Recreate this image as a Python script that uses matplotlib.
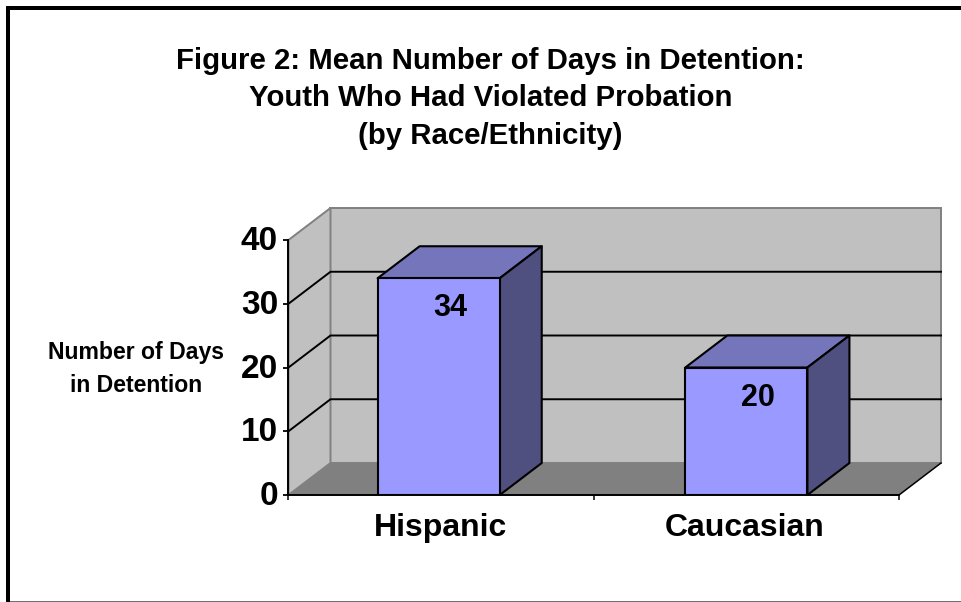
# -*- coding: utf-8 -*-
"""Excel style 3D column chart drawn on a flat matplotlib axes."""

import matplotlib
matplotlib.use('Agg')
import matplotlib.pyplot as plt
from matplotlib.patches import Polygon, Rectangle
from matplotlib.transforms import ScaledTranslation

plt.rcParams['font.family'] = ['Liberation Sans', 'DejaVu Sans']

# Data
categories = ['Hispanic', 'Caucasian']
values = [34, 20]
y_ticks = [0, 10, 20, 30, 40]
title_lines = ['Figure 2: Mean Number of Days in Detention:',
               'Youth Who Had Violated Probation',
               '(by Race/Ethnicity)']
y_label_lines = ['Number of Days', 'in Detention']

W, H = 962, 602
c_wall = '#C0C0C0'
c_floor = '#808080'
c_front = '#9999FF'
c_top = '#7575BC'
c_side = '#4F4F80'


def px(x, y):
    # picture pixels to figure fraction
    return x / W, 1 - y / H


fig = plt.figure(figsize=(W / 100, H / 100), dpi=100, facecolor='white')

# Front plane of the 3D box
left, right, top, bottom = 288.5, 899, 240, 495
ax = fig.add_axes([left / W, 1 - bottom / H, (right - left) / W, (bottom - top) / H])
ax.set_xlim(-0.5, 1.5)
ax.set_ylim(0, 40)
ax.patch.set_visible(False)

# Depth of the box in data units (42 px across, 32 px up)
dx = 42 / ((right - left) / 2)
dy = 32 / ((bottom - top) / 40)
x0, x1 = -0.5, 1.5
ymax = y_ticks[-1]

# Walls and floor
ax.add_patch(Polygon([(x0 + dx, dy), (x1 + dx, dy), (x1 + dx, ymax + dy), (x0 + dx, ymax + dy)],
                     closed=True, facecolor=c_wall, edgecolor=c_floor, lw=1.4, zorder=1, clip_on=False))
ax.add_patch(Polygon([(x0, 0), (x0 + dx, dy), (x0 + dx, ymax + dy), (x0, ymax)],
                     closed=True, facecolor=c_wall, edgecolor=c_floor, lw=1.4, zorder=1, clip_on=False))
ax.add_patch(Polygon([(x0, 0), (x1, 0), (x1 + dx, dy), (x0 + dx, dy)],
                     closed=True, facecolor=c_floor, edgecolor='none', zorder=2, clip_on=False))
ax.plot([x1, x1 + dx], [0, dy], color='black', lw=1.1, zorder=3, clip_on=False)

# Gridlines run along the side wall and the back wall
for t in y_ticks[1:-1]:
    ax.plot([x0, x0 + dx, x1 + dx], [t, t + dy, t + dy], color='black', lw=1.4,
            zorder=3, clip_on=False, solid_joinstyle='miter')

# Bars, the first sits a touch left of its slot in the original
bar_w = 0.4
xs = [-0.008, 1.0]
ax.bar(xs, values, width=bar_w, color=c_front, edgecolor='black', linewidth=1.5, zorder=5)
for i, v in zip(xs, values):
    l, r = i - bar_w / 2, i + bar_w / 2
    ax.add_patch(Polygon([(l, v), (r, v), (r + dx, v + dy), (l + dx, v + dy)], closed=True,
                         facecolor=c_top, edgecolor='black', lw=1.5, zorder=4, joinstyle='round'))
    ax.add_patch(Polygon([(r, 0), (r + dx, dy), (r + dx, v + dy), (r, v)], closed=True,
                         facecolor=c_side, edgecolor='black', lw=1.5, zorder=4, joinstyle='round'))
    ax.annotate(str(v), (i, v), xytext=(12, -30), textcoords='offset pixels', ha='center',
                va='center', fontsize=22, fontweight='bold', color='black', zorder=6)

# Axes
for side in ('top', 'right'):
    ax.spines[side].set_visible(False)
for side in ('left', 'bottom'):
    ax.spines[side].set_linewidth(1.4)
    ax.spines[side].set_zorder(4)
ax.set_yticks(y_ticks)
ax.set_yticklabels([str(t) for t in y_ticks], fontsize=24, fontweight='bold')
ax.tick_params(axis='y', length=3.5, width=1.3, pad=4)
# the value labels sit slightly above their ticks
nudge = ScaledTranslation(0, 2 / 100, fig.dpi_scale_trans)
for lab in ax.get_yticklabels():
    lab.set_transform(lab.get_transform() + nudge)
ax.set_xticks([-0.003, 0.993])
ax.set_xticklabels(categories, fontsize=23, fontweight='bold')
ax.tick_params(axis='x', which='major', length=0, pad=13)
ax.set_xticks([x0, 0.5, x1], minor=True)
ax.tick_params(axis='x', which='minor', length=3.5, width=1.1)

# Titles
for line, y in zip(title_lines, [61, 98, 136]):
    xf, yf = px(490.5, y)
    fig.text(xf, yf, line, ha='center', va='center', fontsize=21.2, fontweight='bold')
for line, y in zip(y_label_lines, [352, 385]):
    xf, yf = px(136.5, y)
    fig.text(xf, yf, line, ha='center', va='center', fontsize=16.6, fontweight='bold')

# Chart area frame: heavy top and left, faint bottom
fig.add_artist(Rectangle(px(6, 10), 956 / W, 4 / H, transform=fig.transFigure, facecolor='black', edgecolor='none'))
fig.add_artist(Rectangle(px(6, 602), 4 / W, 596 / H, transform=fig.transFigure, facecolor='black', edgecolor='none'))
fig.add_artist(Rectangle(px(10, 602), 952 / W, 1.5 / H, transform=fig.transFigure, facecolor='#707070', edgecolor='none'))

fig.savefig('out.png', dpi=100, facecolor='white')
plt.close(fig)
